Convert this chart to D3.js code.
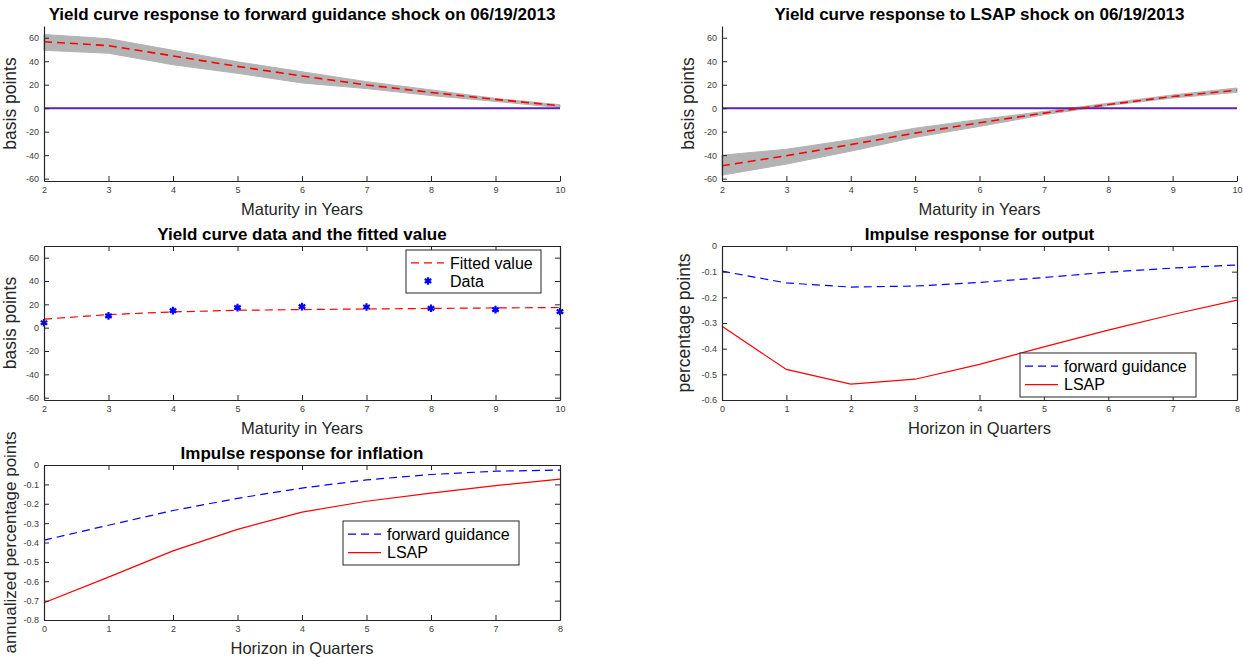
<!DOCTYPE html>
<html><head><meta charset="utf-8">
<script src="https://cdn.jsdelivr.net/npm/d3@7"></script>
<style>
body{margin:0;background:#fff;}
svg{display:block;font-family:"Liberation Sans",Arial,Helvetica,sans-serif;}
</style></head>
<body><svg id="c" width="1243" height="657"></svg>
<script>
// ---------- data ----------
const maturities = [2,3,4,5,6,7,8,9,10];
const horizons = [0,1,2,3,4,5,6,7,8];
const basisTicks = [-60,-40,-20,0,20,40,60];
const outTicks = [-0.6,-0.5,-0.4,-0.3,-0.2,-0.1,0];
const infTicks = [-0.8,-0.7,-0.6,-0.5,-0.4,-0.3,-0.2,-0.1,0];

const fgMid   = [56.6,53.3,44.5,35.6,27.4,19.8,13.4,7.5,2.1];
const fgUpper = [62.8,59.2,49.3,39.5,31.0,22.6,15.6,8.3,3.0];
const fgLower = [49.3,46.8,37.0,29.7,21.5,16.7,10.8,5.8,0.5];

const lsapMid   = [-49.0,-40.5,-31.0,-21.2,-12.4,-4.2,3.1,9.9,15.4];
const lsapUpper = [-40.0,-35.0,-26.8,-17.0,-9.6,-2.8,4.2,11.3,17.2];
const lsapLower = [-57.0,-47.6,-36.6,-24.8,-15.5,-5.6,2.3,8.7,13.5];

const fittedVals = [7.3,11.2,13.5,14.9,15.5,16.0,16.5,16.9,17.3];
const dataVals   = [4.2,10.1,14.6,17.2,18.0,17.7,16.6,15.5,13.8];

const outFG   = [-0.098,-0.144,-0.160,-0.156,-0.142,-0.123,-0.102,-0.086,-0.074];
const outLSAP = [-0.313,-0.481,-0.538,-0.519,-0.461,-0.393,-0.328,-0.267,-0.211];

const infFG   = [-0.388,-0.311,-0.235,-0.172,-0.119,-0.077,-0.049,-0.032,-0.026];
const infLSAP = [-0.711,-0.579,-0.443,-0.332,-0.243,-0.187,-0.145,-0.106,-0.073];

// ---------- helpers ----------
const svg = d3.select("#c");
const AX = "#262626", TXT = "#404040";
const fmt = d => (Math.abs(d) < 1e-9 ? "0" : (Number.isInteger(d) ? String(d) : d.toFixed(1)));

function panel(o){
  const g = svg.append("g");
  const x = d3.scaleLinear().domain(o.xd).range([o.x0,o.x1]);
  const y = d3.scaleLinear().domain(o.yd).range([o.y1,o.y0]);
  const plot = g.append("g");
  const bx = d3.axisBottom(x).tickValues(o.xt).tickFormat(d=>String(d)).tickSizeInner(-5).tickSizeOuter(0).tickPadding(6);
  const ly = d3.axisLeft(y).tickValues(o.yt).tickFormat(fmt).tickSizeInner(-5).tickSizeOuter(0).tickPadding(5);
  const ga = g.append("g").attr("transform",`translate(0,${o.y1})`).call(bx);
  const gl = g.append("g").attr("transform",`translate(${o.x0},0)`).call(ly);
  const axes=[ga,gl];
  if(o.box){
    const tx = d3.axisTop(x).tickValues(o.xt).tickFormat("").tickSizeInner(-5).tickSizeOuter(0);
    const ry = d3.axisRight(y).tickValues(o.yt).tickFormat("").tickSizeInner(-5).tickSizeOuter(0);
    axes.push(g.append("g").attr("transform",`translate(0,${o.y0})`).call(tx));
    axes.push(g.append("g").attr("transform",`translate(${o.x1},0)`).call(ry));
  }
  axes.forEach(a=>{
    a.selectAll("path.domain").attr("stroke",AX).attr("stroke-width",1.2);
    a.selectAll(".tick line").attr("stroke",AX).attr("stroke-width",1);
    a.selectAll(".tick text").attr("fill",TXT).attr("font-size",9).attr("font-family","Liberation Sans,Arial,sans-serif");
  });
  g.append("text").attr("x",(o.x0+o.x1)/2).attr("y",o.y0-6.5).attr("text-anchor","middle")
    .attr("font-size",17).attr("font-weight","bold").attr("fill","#000").text(o.title);
  g.append("text").attr("x",(o.x0+o.x1)/2).attr("y",o.y1+34).attr("text-anchor","middle")
    .attr("font-size",16.5).attr("fill",AX).text(o.xlabel);
  g.append("text").attr("transform",`translate(${o.ylx},${(o.y0+o.y1)/2}) rotate(-90)`)
    .attr("text-anchor","middle").attr("font-size",o.ylfs||17.5).attr("fill",AX).text(o.ylabel);
  return {g,plot,x,y};
}

function legend(g, bx, by, bw, bh, items){
  const lg = g.append("g");
  lg.append("rect").attr("x",bx).attr("y",by).attr("width",bw).attr("height",bh)
    .attr("fill","#fff").attr("stroke",AX).attr("stroke-width",1);
  items.forEach((it,i)=>{
    const cy = by + bh*(i===0?0.3:0.72);
    if(it.type==="line"){
      lg.append("line").attr("x1",bx+5).attr("x2",bx+38).attr("y1",cy).attr("y2",cy)
        .attr("stroke",it.color).attr("stroke-width",1.2).attr("stroke-dasharray",it.dash||null);
    } else {
      lg.append("path").attr("transform",`translate(${bx+22},${cy})`)
        .attr("d",d3.symbol(d3.symbolAsterisk||d3.symbolCross,40)())
        .attr("fill",it.color).attr("stroke",it.color).attr("stroke-width",2.2);
    }
    lg.append("text").attr("x",bx+44).attr("y",cy).attr("dy","0.36em")
      .attr("font-size",16).attr("fill","#000").text(it.label);
  });
}

// ---------- panels 1 & 2 ----------
function yieldPanel(x0,x1,title,mid,up,lo){
  const p = panel({x0,x1,y0:26,y1:181,xd:[2,10],yd:[-62,70],xt:maturities,yt:basisTicks,
    title,xlabel:"Maturity in Years",ylabel:"basis points",ylx:x0-28,box:false});
  const area = d3.area().x((d,i)=>p.x(maturities[i])).y0((d,i)=>p.y(lo[i])).y1((d,i)=>p.y(up[i]));
  p.plot.append("path").attr("d",area(mid)).attr("fill","#b3b3b3").attr("stroke","#b3b3b3").attr("stroke-width",1);
  p.plot.append("line").attr("x1",p.x(2)).attr("x2",p.x(10)).attr("y1",p.y(0)).attr("y2",p.y(0))
    .attr("stroke","#5b22bd").attr("stroke-width",2);
  const ln = d3.line().x((d,i)=>p.x(maturities[i])).y(d=>p.y(d));
  p.plot.append("path").attr("d",ln(mid)).attr("fill","none").attr("stroke","#ff0000")
    .attr("stroke-width",1.6).attr("stroke-dasharray","8,5");
}
yieldPanel(44,560,"Yield curve response to forward guidance shock on 06/19/2013",fgMid,fgUpper,fgLower);
yieldPanel(722,1237,"Yield curve response to LSAP shock on 06/19/2013",lsapMid,lsapUpper,lsapLower);

// ---------- panel 3 ----------
{
  const p = panel({x0:44,x1:560,y0:246,y1:400,xd:[2,10],yd:[-62,70],xt:maturities,yt:basisTicks,
    title:"Yield curve data and the fitted value",xlabel:"Maturity in Years",ylabel:"basis points",ylx:16,box:true});
  const ln = d3.line().x((d,i)=>p.x(maturities[i])).y(d=>p.y(d));
  p.plot.append("path").attr("d",ln(fittedVals)).attr("fill","none").attr("stroke","#ff0000")
    .attr("stroke-width",1.2).attr("stroke-dasharray","8,5");
  p.plot.selectAll("path.pt").data(dataVals).enter().append("path").attr("class","pt")
    .attr("transform",(d,i)=>`translate(${p.x(maturities[i])},${p.y(d)})`)
    .attr("d",d3.symbol(d3.symbolAsterisk||d3.symbolCross,40)())
    .attr("fill","#0000ff").attr("stroke","#0000ff").attr("stroke-width",2.2);
  legend(p.g,406,250,135,43,[{type:"line",color:"#ff0000",dash:"8,5",label:"Fitted value"},{type:"pt",color:"#0000ff",label:"Data"}]);
}

// ---------- panel 4 ----------
{
  const p = panel({x0:722,x1:1237,y0:246,y1:400,xd:[0,8],yd:[-0.6,0],xt:horizons,yt:outTicks,
    title:"Impulse response for output",xlabel:"Horizon in Quarters",ylabel:"percentage points",ylx:690,box:true});
  const ln = d3.line().x((d,i)=>p.x(horizons[i])).y(d=>p.y(d));
  p.plot.append("path").attr("d",ln(outFG)).attr("fill","none").attr("stroke","#0000ff")
    .attr("stroke-width",1.2).attr("stroke-dasharray","8,5");
  p.plot.append("path").attr("d",ln(outLSAP)).attr("fill","none").attr("stroke","#ff0000").attr("stroke-width",1.2);
  legend(p.g,1020,353,176,44,[{type:"line",color:"#0000ff",dash:"8,5",label:"forward guidance"},{type:"line",color:"#ff0000",label:"LSAP"}]);
}

// ---------- panel 5 ----------
{
  const p = panel({x0:44,x1:560,y0:465,y1:620,xd:[0,8],yd:[-0.8,0],xt:horizons,yt:infTicks,
    title:"Impulse response for inflation",xlabel:"Horizon in Quarters",ylabel:"annualized percentage points",ylx:16,ylfs:17,box:true});
  const ln = d3.line().x((d,i)=>p.x(horizons[i])).y(d=>p.y(d));
  p.plot.append("path").attr("d",ln(infFG)).attr("fill","none").attr("stroke","#0000ff")
    .attr("stroke-width",1.2).attr("stroke-dasharray","8,5");
  p.plot.append("path").attr("d",ln(infLSAP)).attr("fill","none").attr("stroke","#ff0000").attr("stroke-width",1.2);
  legend(p.g,343,521,176,44,[{type:"line",color:"#0000ff",dash:"8,5",label:"forward guidance"},{type:"line",color:"#ff0000",label:"LSAP"}]);
}
</script></body></html>
